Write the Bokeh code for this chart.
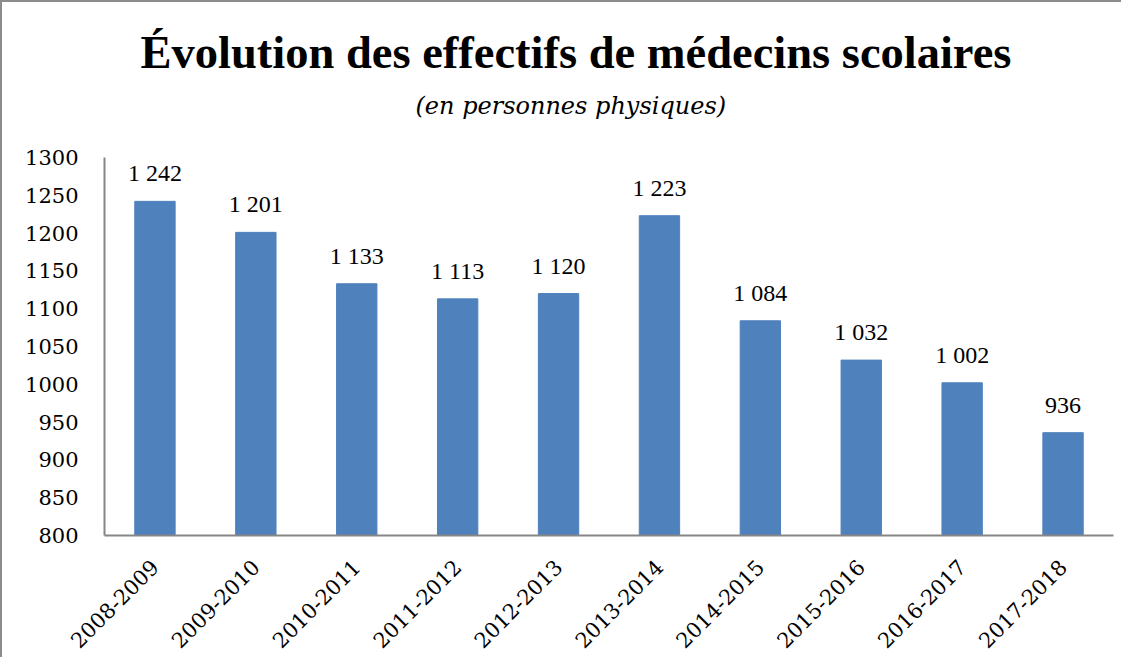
from bokeh.plotting import figure
from bokeh.models import ColumnDataSource, FixedTicker, Title, LabelSet, Range1d
from bokeh.embed import file_html
from bokeh.resources import INLINE
import math

years = ["2008-2009", "2009-2010", "2010-2011", "2011-2012", "2012-2013",
         "2013-2014", "2014-2015", "2015-2016", "2016-2017", "2017-2018"]
effectifs = [1242, 1201, 1133, 1113, 1120, 1223, 1084, 1032, 1002, 936]
y_ticks = [800, 850, 900, 950, 1000, 1050, 1100, 1150, 1200, 1250, 1300]

labels = ["{:,}".format(v).replace(",", " ") for v in effectifs]
src = ColumnDataSource(dict(x=years, y=effectifs, lab=labels))

FONT = "DejaVu Serif"
TFONT = "Liberation Serif"

p = figure(x_range=years, y_range=Range1d(800, 1300),
           frame_width=1009, frame_height=378,
           min_border_left=102, min_border_right=8, min_border_top=155, min_border_bottom=111,
           output_backend="svg", toolbar_location=None, title=None)
p.styles = {"border-top": "2px solid #8c8c8c", "border-left": "2px solid #8c8c8c"}

p.vbar(x="x", top="y", bottom=800, width=0.4, source=src, fill_color="#4F81BD", line_color="#4F81BD")

p.add_layout(LabelSet(x="x", y="y", text="lab", source=src, text_align="center",
                      text_baseline="alphabetic", y_offset=20,
                      text_font=FONT, text_font_size="24px", text_color="black"))

sub = Title(text="(en personnes physiques)", align="left", text_font=FONT, offset=311,
            text_font_size="24px", text_font_style="italic", text_color="black", standoff=75)
ttl = Title(text="Évolution des effectifs de médecins scolaires", align="left", text_font=TFONT,
            offset=36, standoff=-50,
            text_font_size="46.5px", text_font_style="bold", text_color="black")
p.add_layout(sub, "above")
p.add_layout(ttl, "above")

p.grid.visible = False
p.outline_line_color = None

p.yaxis.ticker = FixedTicker(ticks=y_ticks)
for ax in (p.xaxis, p.yaxis):
    ax.axis_line_color = "#868686"
    ax.axis_line_width = 2
    ax.major_tick_line_color = None
    ax.minor_tick_line_color = None
    ax.major_tick_out = 0
    ax.major_tick_in = 0
    ax.major_label_text_font = FONT
    ax.major_label_text_font_size = "21px"
    ax.major_label_text_color = "black"
p.yaxis.major_label_standoff = 26
p.xaxis.major_label_orientation = math.pi / 4
p.xaxis.major_label_standoff = 28

open("out.html", "w").write(file_html(p, INLINE))
